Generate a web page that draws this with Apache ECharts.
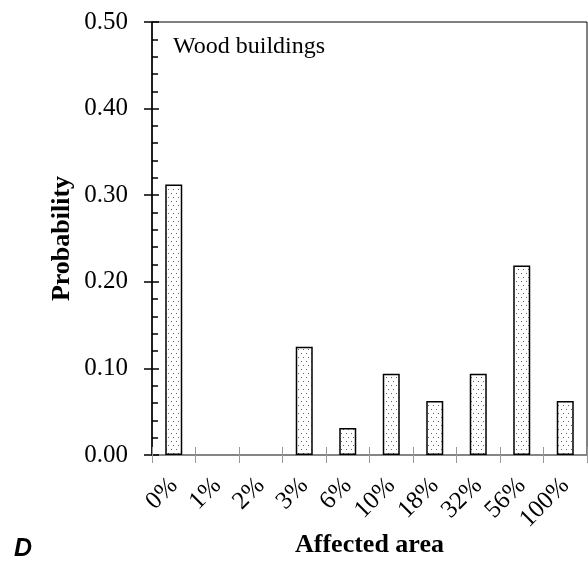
<!DOCTYPE html>
<html>
<head>
<meta charset="utf-8">
<script src="https://cdn.jsdelivr.net/npm/echarts@6/dist/echarts.min.js"></script>
<style>
html,body{margin:0;padding:0;background:#fff;}
#c{width:588px;height:563px;}
</style>
</head>
<body>
<div id="c"></div>
<script>
const categories = ['0%', '1%', '2%', '3%', '6%', '10%', '18%', '32%', '56%', '100%'];
const probability = [0.3125, 0, 0, 0.125, 0.03125, 0.09375, 0.0625, 0.09375, 0.21875, 0.0625];
const yTicks = [0, 0.1, 0.2, 0.3, 0.4, 0.5];

const pat = document.createElement('canvas');
pat.width = 5; pat.height = 8;
const pctx = pat.getContext('2d');
pctx.fillStyle = '#fff';
pctx.fillRect(0, 0, 5, 8);
pctx.fillStyle = '#666';
pctx.fillRect(1, 1, 1, 1);
pctx.fillRect(3, 5, 1, 1);

const serif = 'Liberation Serif';
const chart = echarts.init(document.getElementById('c'));
chart.setOption({
  animation: false,
  backgroundColor: '#fff',
  title: {
    text: 'Wood buildings', left: 168, top: 30,
    textStyle: {fontFamily: serif, fontWeight: 'normal', fontSize: 24, color: '#000'}
  },
  graphic: [{
    type: 'text', left: 14, top: 537,
    style: {text: 'D', font: 'italic bold 25px "Liberation Sans"', fill: '#000'}
  }],
  grid: {left: 152, right: 1, top: 22, bottom: 108, show: true, borderColor: '#000', borderWidth: 1,
    containLabel: false, outerBoundsMode: 'none'},
  xAxis: [{
    type: 'category', data: categories,
    name: 'Affected area', nameLocation: 'middle', nameGap: 77, nameMoveOverlap: false,
    nameTextStyle: {fontFamily: serif, fontWeight: 'bold', fontSize: 26, color: '#000'},
    axisLine: {lineStyle: {color: '#888', width: 1.5}},
    axisTick: {show: true, length: 8, lineStyle: {color: '#999'}},
    axisLabel: {rotate: 45, margin: 27, interval: 0, hideOverlap: false, fontFamily: serif, fontSize: 25, color: '#000'}
  }, {
    type: 'category', data: categories, position: 'bottom',
    axisLine: {show: false},
    axisTick: {show: true, inside: true, length: 8, lineStyle: {color: '#999'}},
    axisLabel: {show: false}
  }],
  yAxis: [{
    type: 'value', min: 0, max: 0.5, interval: 0.1,
    name: 'Probability', nameLocation: 'middle', nameGap: 77, nameRotate: 90, nameMoveOverlap: false,
    nameTextStyle: {fontFamily: serif, fontWeight: 'bold', fontSize: 26, color: '#000'},
    axisLine: {show: true, lineStyle: {color: '#000', width: 1.5}},
    axisTick: {show: true, length: 8, lineStyle: {color: '#000', width: 1.5}},
    axisLabel: {margin: 24, fontFamily: serif, fontSize: 25, color: '#000',
      formatter: v => yTicks.indexOf(Math.round(v * 10) / 10) >= 0 ? v.toFixed(2) : ''},
    splitLine: {show: false}
  }, {
    type: 'value', min: 0, max: 0.5, interval: 0.1, position: 'left',
    axisLine: {show: false},
    axisTick: {show: true, inside: true, length: 7, lineStyle: {color: '#000', width: 1.5}},
    minorTick: {show: true, splitNumber: 5, length: 6, lineStyle: {color: '#000', width: 1.5}},
    axisLabel: {show: false},
    splitLine: {show: false}
  }],
  series: [{
    type: 'bar', data: probability.map(v => v === 0 ? '-' : v), barWidth: 17,
    itemStyle: {color: {image: pat, repeat: 'repeat'}, borderColor: '#000', borderWidth: 1.5}
  }]
});
</script>
</body>
</html>
